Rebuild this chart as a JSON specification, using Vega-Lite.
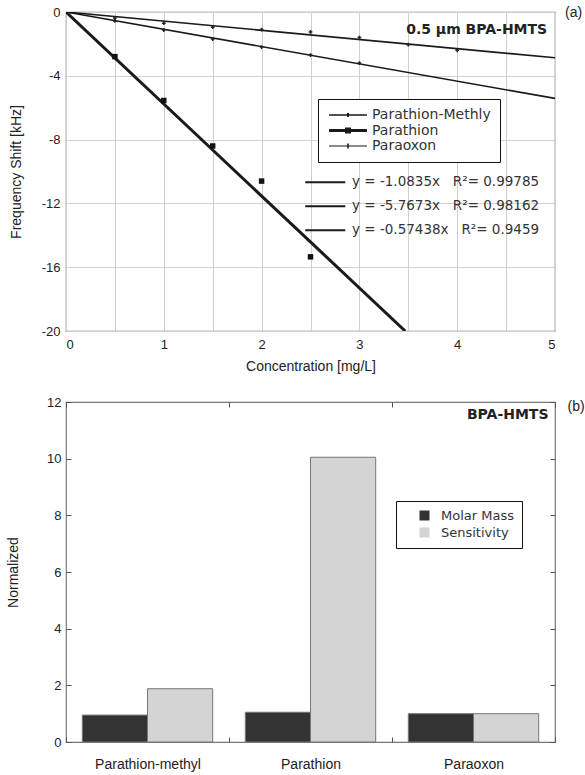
{
  "$schema": "https://vega.github.io/schema/vega-lite/v6.json",
  "padding": {"left": 5, "top": 5, "right": 0, "bottom": 0},
  "spacing": 21,
  "config": {
    "font": "Liberation Sans",
    "view": {"stroke": "#777", "strokeWidth": 1.2},
    "axis": {"labelFontSize": 13, "labelColor": "#222", "titleFontSize": 14, "titleFontWeight": "normal", "titleColor": "#222", "domain": false}
  },
  "datasets": {
    "points": [
      {"series": "Paraoxon", "x": 0.5, "y": -0.38},
      {"series": "Paraoxon", "x": 1.0, "y": -0.7},
      {"series": "Paraoxon", "x": 1.5, "y": -0.95},
      {"series": "Paraoxon", "x": 2.0, "y": -1.1},
      {"series": "Paraoxon", "x": 2.5, "y": -1.25},
      {"series": "Paraoxon", "x": 3.0, "y": -1.6},
      {"series": "Paraoxon", "x": 3.5, "y": -2.05},
      {"series": "Paraoxon", "x": 4.0, "y": -2.4},
      {"series": "Parathion-Methly", "x": 0.5, "y": -0.56},
      {"series": "Parathion-Methly", "x": 1.0, "y": -1.13},
      {"series": "Parathion-Methly", "x": 1.5, "y": -1.7},
      {"series": "Parathion-Methly", "x": 2.0, "y": -2.2},
      {"series": "Parathion-Methly", "x": 2.5, "y": -2.7},
      {"series": "Parathion-Methly", "x": 3.0, "y": -3.2},
      {"series": "Parathion", "x": 0.5, "y": -2.8},
      {"series": "Parathion", "x": 1.0, "y": -5.55},
      {"series": "Parathion", "x": 1.5, "y": -8.4},
      {"series": "Parathion", "x": 2.0, "y": -10.6},
      {"series": "Parathion", "x": 2.5, "y": -15.35}
    ],
    "fits": [
      {"series": "Parathion-Methly", "eq": "y = -1.0835x\u00a0\u00a0\u00a0R²= 0.99785", "x": 0, "y": 0},
      {"series": "Parathion-Methly", "eq": "y = -1.0835x\u00a0\u00a0\u00a0R²= 0.99785", "x": 5, "y": -5.4175},
      {"series": "Parathion", "eq": "y = -5.7673x\u00a0\u00a0\u00a0R²= 0.98162", "x": 0, "y": 0},
      {"series": "Parathion", "eq": "y = -5.7673x\u00a0\u00a0\u00a0R²= 0.98162", "x": 3.4679, "y": -20},
      {"series": "Paraoxon", "eq": "y = -0.57438x\u00a0\u00a0\u00a0R²= 0.9459", "x": 0, "y": 0},
      {"series": "Paraoxon", "eq": "y = -0.57438x\u00a0\u00a0\u00a0R²= 0.9459", "x": 5, "y": -2.8719}
    ],
    "bars": [
      {"compound": "Parathion-methyl", "measure": "Molar Mass", "value": 0.95},
      {"compound": "Parathion-methyl", "measure": "Sensitivity", "value": 1.88},
      {"compound": "Parathion", "measure": "Molar Mass", "value": 1.05},
      {"compound": "Parathion", "measure": "Sensitivity", "value": 10.05},
      {"compound": "Paraoxon", "measure": "Molar Mass", "value": 1.0},
      {"compound": "Paraoxon", "measure": "Sensitivity", "value": 1.0}
    ],
    "labels": [{"a": 1}]
  },
  "vconcat": [
    {
      "width": 489,
      "height": 319,
      "title": {"text": "(a)", "orient": "right", "angle": 0, "anchor": "start", "align": "left", "baseline": "top", "offset": -7, "fontSize": 14, "fontWeight": "normal", "color": "#222"},
      "layer": [
        {
          "data": {"name": "fits"},
          "mark": {"type": "line", "clip": true},
          "encoding": {
            "x": {"field": "x", "type": "quantitative", "scale": {"domain": [0, 5], "nice": false, "zero": false},
              "axis": {"title": "Concentration [mg/L]", "values": [0, 0.5, 1, 1.5, 2, 2.5, 3, 3.5, 4, 4.5, 5], "labelExpr": "datum.value % 1 === 0 ? '' + datum.value : ''", "grid": true, "gridColor": "#cfcfcf", "ticks": false, "labelPadding": 7, "titlePadding": 8}},
            "y": {"field": "y", "type": "quantitative", "scale": {"domain": [-20, 0], "nice": false, "zero": false},
              "axis": {"title": "Frequency Shift [kHz]", "values": [-20, -18, -16, -14, -12, -10, -8, -6, -4, -2, 0], "labelExpr": "datum.value % 4 === 0 ? '' + datum.value : ''", "grid": true, "gridColor": "#cfcfcf", "ticks": false, "labelPadding": 6, "titlePadding": 17.5}},
            "stroke": {"field": "eq", "type": "nominal",
              "scale": {"domain": ["y = -1.0835x\u00a0\u00a0\u00a0R²= 0.99785", "y = -5.7673x\u00a0\u00a0\u00a0R²= 0.98162", "y = -0.57438x\u00a0\u00a0\u00a0R²= 0.9459"], "range": ["#1a1a1a", "#1a1a1a", "#1a1a1a"]},
              "legend": {"orient": "none", "legendX": 237.5, "legendY": 163.5, "title": null, "padding": 0, "symbolType": "M-1,0H7", "symbolSize": 100, "symbolStrokeWidth": 2, "labelFont": "DejaVu Sans", "labelFontSize": 13.5, "labelLimit": 400, "labelColor": "#333", "rowPadding": 9, "labelOffset": 35}},
            "strokeWidth": {"condition": {"test": "datum.series === 'Parathion'", "value": 3}, "value": 1.6}
          }
        },
        {
          "data": {"name": "points"},
          "mark": {"type": "point", "filled": true, "opacity": 0, "color": "#1a1a1a"},
          "encoding": {
            "x": {"field": "x", "type": "quantitative"},
            "y": {"field": "y", "type": "quantitative"},
            "shape": {"field": "series", "type": "nominal",
              "scale": {"domain": ["Parathion-Methly", "Parathion", "Paraoxon"],
                "range": ["M-1,-0.15H6.6V0.15H-1ZM2.6,-0.4H3.0V0.4H2.6Z", "M-1,-0.3H6.6V0.3H-1ZM2.2,-0.6H3.4V0.6H2.2Z", "M-1,-0.12H6.6V0.12H-1ZM2.65,-0.5H2.95V0.5H2.65Z"]},
              "legend": {"orient": "none", "legendX": 252, "legendY": 87, "title": null, "symbolSize": 100, "symbolOpacity": 1, "symbolFillColor": "#1a1a1a", "symbolStrokeColor": "#1a1a1a", "symbolStrokeWidth": 0.3, "labelFont": "DejaVu Sans", "labelFontSize": 14, "labelLimit": 400, "labelColor": "#333", "strokeColor": "#111", "fillColor": "white", "padding": 9, "rowPadding": 1.5, "labelOffset": 31}}
          }
        },
        {
          "data": {"name": "points"},
          "transform": [{"filter": "datum.series === 'Parathion'"}],
          "mark": {"type": "square", "filled": true, "color": "#111", "size": 30, "opacity": 1},
          "encoding": {
            "x": {"field": "x", "type": "quantitative"},
            "y": {"field": "y", "type": "quantitative"}
          }
        },
        {
          "data": {"name": "points"},
          "transform": [{"filter": "datum.series !== 'Parathion'"}],
          "mark": {"type": "point", "shape": "cross", "filled": true, "color": "#222", "size": 14, "opacity": 1},
          "encoding": {
            "x": {"field": "x", "type": "quantitative"},
            "y": {"field": "y", "type": "quantitative"}
          }
        },
        {
          "data": {"name": "labels"},
          "mark": {"type": "text", "text": "0.5 µm BPA-HMTS", "align": "right", "baseline": "middle", "font": "DejaVu Sans", "fontWeight": "bold", "fontSize": 14, "color": "#222"},
          "encoding": {"x": {"datum": 4.92, "type": "quantitative"}, "y": {"datum": -1.15, "type": "quantitative"}}
        }
      ]
    },
    {
      "width": 489,
      "height": 340,
      "title": {"text": "(b)", "orient": "right", "angle": 0, "anchor": "start", "align": "left", "baseline": "top", "offset": -5, "fontSize": 14, "fontWeight": "normal", "color": "#222", "dy": 4},
      "layer": [
        {
          "data": {"name": "bars"},
          "mark": {"type": "bar", "stroke": "#777", "strokeWidth": 1},
          "encoding": {
            "x": {"field": "compound", "type": "nominal", "sort": ["Parathion-methyl", "Parathion", "Paraoxon"], "scale": {"domain": ["Parathion-methyl", "Parathion", "Paraoxon"], "paddingInner": 0, "paddingOuter": 0},
              "axis": {"title": null, "labelAngle": 0, "labelFontSize": 14, "tickBand": "extent", "tickSize": -5, "tickColor": "#555", "labelPadding": 20}},
            "xOffset": {"field": "measure", "type": "nominal", "scale": {"paddingOuter": 0.25, "paddingInner": 0}},
            "y": {"field": "value", "type": "quantitative", "scale": {"domain": [0, 12], "nice": false},
              "axis": {"title": "Normalized", "values": [0, 2, 4, 6, 8, 10, 12], "grid": false, "tickSize": -5, "tickColor": "#555", "labelPadding": 10, "titlePadding": 26}},
            "fill": {"field": "measure", "type": "nominal", "scale": {"domain": ["Molar Mass", "Sensitivity"], "range": ["#333333", "#d4d4d4"]},
              "legend": {"orient": "none", "legendX": 330, "legendY": 489, "title": null, "symbolType": "square", "symbolSize": 100, "symbolOffset": 14, "symbolStrokeWidth": 0, "labelFont": "DejaVu Sans", "labelFontSize": 13, "labelColor": "#333", "strokeColor": "#111", "fillColor": "white", "padding": 8, "rowPadding": 3, "labelOffset": 10}}
          }
        },
        {
          "data": {"name": "labels"},
          "mark": {"type": "text", "text": "BPA-HMTS", "align": "right", "baseline": "middle", "font": "DejaVu Sans", "fontWeight": "bold", "fontSize": 14, "color": "#222", "dx": 75},
          "encoding": {
            "x": {"datum": "Paraoxon", "type": "nominal", "axis": {"orient": "top", "title": null, "labels": false, "tickBand": "extent", "tickSize": -5, "tickColor": "#555"}},
            "y": {"datum": 11.55, "type": "quantitative", "axis": {"orient": "right", "title": null, "labels": false, "values": [0, 2, 4, 6, 8, 10, 12], "tickSize": -5, "tickColor": "#555", "grid": false}}
          }
        }
      ],
      "resolve": {"axis": {"x": "independent", "y": "independent"}}
    }
  ]
}
